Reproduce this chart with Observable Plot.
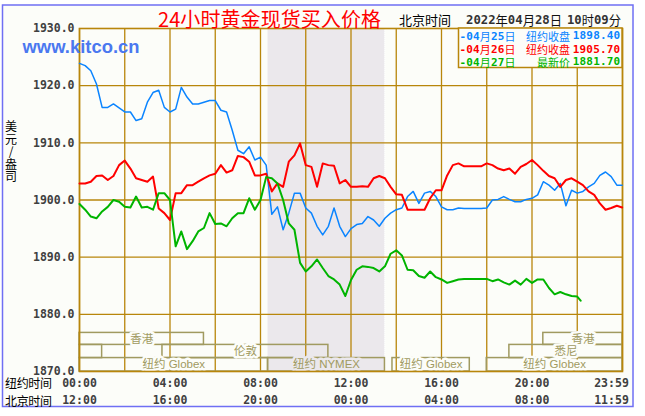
<!DOCTYPE html>
<html><head><meta charset="utf-8">
<script src="https://cdn.jsdelivr.net/npm/d3@7"></script>
<script src="https://cdn.jsdelivr.net/npm/@observablehq/plot@0.6"></script>
<style>
html,body{margin:0;padding:0;background:#fff;}
#chart{width:645px;height:416px;}
</style></head><body><div id="chart"></div>
<script>
// ---- data (NY time, minutes after midnight, 15-minute samples) ----
const times = [...d3.range(0, 1440, 15), 1439];
const blue = [1923.9,1923.5,1922.6,1920.3,1916.2,1916.2,1916.8,1916.1,1915.4,1915.4,1913.9,1914.2,1917.1,1918.8,1919.2,1916.2,
  1915.4,1915.9,1919.7,1918.0,1916.8,1916.8,1917.1,1917.4,1917.4,1915.7,1915.4,1912.2,1908.7,1908.1,1909.3,1907.0,
  1907.5,1906.1,1897.5,1898.8,1894.8,1897.7,1901.2,1901.2,1898.6,1897.7,1895.4,1893.9,1895.4,1898.6,1895.4,1893.6,
  1895.0,1895.7,1895.9,1897.1,1896.5,1895.4,1896.8,1897.7,1898.3,1898.6,1900.6,1901.5,1899.4,1901.2,1901.5,1900.6,
  1898.8,1898.3,1898.3,1898.6,1898.5,1898.5,1898.5,1898.5,1898.6,1900.0,1900.1,1900.6,1900.1,1899.7,1899.7,1900.1,
  1900.3,1900.9,1903.2,1902.6,1901.7,1902.9,1899.0,1901.7,1901.2,1901.5,1902.3,1902.9,1904.3,1904.9,1904.1,1902.6,1902.6];
const red = [1902.9,1902.9,1903.2,1904.2,1904.3,1903.5,1904.2,1906.1,1906.9,1905.5,1903.8,1903.5,1903.2,1904.1,1898.5,1897.7,
  1896.5,1901.2,1901.2,1902.6,1902.6,1903.2,1903.8,1904.3,1904.6,1906.1,1904.8,1905.2,1907.7,1907.5,1906.7,1904.3,
  1904.3,1904.6,1901.5,1902.9,1902.3,1906.7,1907.8,1909.9,1906.1,1905.8,1902.3,1906.4,1906.1,1906.0,1902.9,1903.5,
  1902.3,1902.3,1902.4,1902.3,1903.8,1904.2,1903.8,1902.3,1901.0,1900.9,1898.3,1898.3,1898.3,1898.3,1900.3,1901.7,
  1901.7,1904.3,1906.1,1906.4,1905.9,1905.9,1905.9,1905.9,1906.4,1906.1,1905.5,1905.2,1905.5,1904.6,1905.8,1906.3,
  1907.0,1906.1,1905.1,1904.2,1903.8,1902.3,1903.5,1903.8,1903.2,1902.6,1901.5,1900.9,1899.4,1898.3,1898.6,1899.0,1898.7];
const green = [1899.3,1898.3,1897.1,1896.8,1898.0,1898.8,1900.0,1899.7,1898.8,1898.7,1900.6,1898.7,1898.8,1898.3,1901.2,1901.2,
  1900.0,1891.9,1894.5,1891.4,1892.8,1894.5,1895.1,1897.7,1895.8,1895.9,1895.4,1896.8,1897.7,1897.7,1900.3,1898.3,
  1900.0,1904.0,1903.8,1902.9,1900.0,1895.9,1894.8,1889.0,1887.5,1888.4,1889.6,1888.1,1886.7,1886.1,1885.2,1883.2,
  1886.0,1887.8,1888.4,1888.3,1888.1,1887.5,1888.4,1890.6,1891.2,1890.3,1887.8,1887.7,1886.7,1886.4,1887.5,1886.5,
  1886.1,1885.5,1885.8,1886.1,1886.2,1886.2,1886.2,1886.2,1886.2,1885.8,1886.1,1885.6,1885.2,1885.9,1885.2,1886.2,
  1885.5,1886.1,1886.1,1884.6,1883.5,1883.9,1883.5,1883.2,1883.1];
const greenLastTime = "22:09";
const greenLastValue = 1882.4;

const legendDates = ["04月25日", "04月26日", "04月27日"];
const legendKinds = ["纽约收盘", "纽约收盘", "最新价"];
const legendValues = [1898.40, 1905.70, 1881.70];

const yTicks = [1870, 1880, 1890, 1900, 1910, 1920, 1930];
const gridLevels = [1880, 1890, 1900, 1910, 1920];
const gridHours = [0,2,4,6,8,10,12,14,16,18,20,22,24];
const labelHours = [0, 4, 8, 12, 16, 20, 24];
const nyLabels = ["00:00","04:00","08:00","12:00","16:00","20:00","23:59"];
const bjLabels = ["12:00","16:00","20:00","00:00","04:00","08:00","11:59"];

const sessionNames = ["香港","香港","悉尼","伦敦","悉尼","纽约 Globex","纽约 NYMEX","纽约 Globex","纽约 Globex"];
const sessionStart = ["00:00","20:30","00:00","03:40","19:00","00:00","08:20","13:50","18:00"];
const sessionEnd   = ["05:30","24:00","01:00","11:00","24:00","08:20","13:30","17:15","24:00"];
const sessionRow   = [0,0,1,1,1,2,2,2,2];
const nymexStart = "08:20", nymexEnd = "13:30";

const titleText = "24小时黄金现货买入价格";
const timeZoneText = "北京时间";
const stampDate = "2022年04月28日";
const stampTime = "10时09分";
const siteText = "www.kitco.cn";
const unitText = "美元/盎司";

// ---- styling/layout ----
const toMin = s => { const [h, m] = s.split(":").map(Number); return h * 60 + m; };
const GOLD = "#b8860b", OLIVE = "#a09a60", BG = "#fcfdf9", SHADE = "#ebe8ec";
const BLUE = "#0a84ff", RED = "#ff0000", GREEN = "#00b400";
const rowY = [[1876.75, 1874.65], [1874.65, 1872.35], [1872.35, 1870]];
const MONO = "DejaVu Sans Mono", CJK = "Noto Sans CJK SC";

const mk = (vals, ts) => vals.map((v, i) => ({t: ts[i], v}));
const blueData = mk(blue, times), redData = mk(red, times);
const greenData = mk(green, times).concat([{t: toMin(greenLastTime), v: greenLastValue}]);
const sessions = sessionNames.map((n, i) => ({
  name: n, s: toMin(sessionStart[i]), e: toMin(sessionEnd[i]),
  y1: rowY[sessionRow[i]][0], y2: rowY[sessionRow[i]][1]
}));
const labeled = sessions.filter(d => d.e - d.s >= 120);
const xl = labelHours.map((h, i) => ({t: h * 60, ny: nyLabels[i], bj: bjLabels[i]}));
const xlMain = xl.slice(0, -1), xlLast = xl.slice(-1);
const tickText = {fontFamily: MONO, fontWeight: "bold", fontSize: 11.5, fill: "#404040", lineAnchor: "middle"};

const plot = Plot.plot({
  width: 645, height: 416,
  marginLeft: 79, marginRight: 23, marginTop: 28, marginBottom: 45,
  x: {domain: [0, 1440], axis: null},
  y: {domain: [1870, 1930], axis: null},
  style: {background: "transparent", overflow: "visible"},
  marks: [
    Plot.rect([{s: toMin(nymexStart), e: toMin(nymexEnd)}], {x1: "s", x2: "e", y1: 1870, y2: 1930, fill: SHADE}),
    Plot.ruleX([toMin(nymexEnd)], {y1: 1870, y2: 1930, stroke: "white", strokeDasharray: "1,1", strokeWidth: 1}),
    Plot.ruleX(gridHours.map(h => h * 60), {y1: 1870, y2: 1930, stroke: GOLD, strokeWidth: 1.3}),
    Plot.ruleY(gridLevels, {x1: 0, x2: 1440, stroke: GOLD, strokeWidth: 1.3}),
    Plot.rect(sessions, {x1: "s", x2: "e", y1: "y1", y2: "y2", fill: "none", stroke: OLIVE, strokeWidth: 1.5}),
    Plot.text(labeled, {x: d => (d.s + d.e) / 2, y: d => (d.y1 + d.y2) / 2, text: "name",
      fill: OLIVE, stroke: d => d.name.includes("NYMEX") ? SHADE : BG, strokeWidth: 5,
      fontSize: 11.5, fontFamily: "Liberation Sans, Noto Sans CJK SC", lineAnchor: "middle"}),
    Plot.frame({stroke: GOLD, strokeWidth: 1.6}),
    Plot.line(blueData, {x: "t", y: "v", stroke: BLUE, strokeWidth: 1.5}),
    Plot.line(redData, {x: "t", y: "v", stroke: RED, strokeWidth: 2}),
    Plot.line(greenData, {x: "t", y: "v", stroke: GREEN, strokeWidth: 2}),
    Plot.text(yTicks, {frameAnchor: "left", y: d => d, text: d => d.toFixed(1), textAnchor: "end", dx: -5, ...tickText}),
    Plot.text(xlMain, {x: "t", frameAnchor: "bottom", text: "ny", dy: 11.5, ...tickText}),
    Plot.text(xlMain, {x: "t", frameAnchor: "bottom", text: "bj", dy: 29, ...tickText}),
    Plot.text(xlLast, {x: "t", frameAnchor: "bottom", text: "ny", dy: 11.5, dx: -11, ...tickText}),
    Plot.text(xlLast, {x: "t", frameAnchor: "bottom", text: "bj", dy: 29, dx: -11, ...tickText})
  ]
});
document.getElementById("chart").appendChild(plot);

const svg = d3.select(plot);
svg.insert("rect", ":first-child").attr("x", 2.5).attr("y", 5).attr("width", 630.5).attr("height", 401.5)
  .attr("fill", BG).attr("stroke", "#6f6ff4").attr("stroke-width", 1.5);

function mixed(str, x, y, o = {}) {
  const size = o.size || 12;
  const t = svg.append("text").attr("x", x).attr("y", y).attr("fill", o.fill || "#000")
    .attr("text-anchor", o.anchor || "start").attr("dominant-baseline", "central")
    .style("font-size", size + "px");
  if (o.len) t.attr("textLength", o.len).attr("lengthAdjust", o.adjust || "spacing");
  if (o.font) {
    t.style("font-family", o.font).style("font-weight", o.weight || "normal").text(str);
    return t;
  }
  str.match(/[\x00-\x7f]+|[^\x00-\x7f]+/g).forEach(r => {
    const ascii = /^[\x00-\x7f]/.test(r);
    t.append("tspan").text(r).style("font-family", ascii ? MONO : CJK)
      .style("font-weight", ascii ? "bold" : "normal").attr("fill", ascii && o.asciiFill ? o.asciiFill : null);
  });
  return t;
}

// title row
mixed(titleText, 158, 18, {size: 20, fill: RED, font: CJK, len: 223});
mixed(timeZoneText, 399, 19, {size: 13, font: CJK, len: 52});
mixed(stampDate, 466, 19, {size: 13, fill: "#111", asciiFill: "#333", len: 96, adjust: "spacingAndGlyphs"});
mixed(stampTime, 621, 19, {size: 13, fill: "#111", asciiFill: "#333", anchor: "end", len: 54, adjust: "spacingAndGlyphs"});

// site
svg.append("text").attr("x", 81).attr("y", 53).attr("fill", "#4a78f0")
  .style("font-family", "Liberation Sans, Arial").style("font-size", "19px").style("font-weight", "bold")
  .attr("textLength", 117).attr("lengthAdjust", "spacingAndGlyphs").text(siteText);

// unit (vertical, one text element)
svg.append("text").attr("x", 11).attr("y", 152).attr("fill", "#000")
  .style("writing-mode", "vertical-rl").style("text-orientation", "upright")
  .style("font-family", CJK).style("font-size", "12px").style("letter-spacing", "0.6px")
  .text(unitText);

// left labels for time rows
mixed("纽约时间", 5, 382.5, {size: 12, font: CJK, len: 47});
mixed(timeZoneText, 5, 400, {size: 12, font: CJK, len: 47});

// legend box
svg.append("rect").attr("x", 458.5).attr("y", 28).attr("width", 163.5).attr("height", 39.5)
  .attr("fill", BG).attr("stroke", GOLD).attr("stroke-width", 1.5);
const legendColors = [BLUE, RED, GREEN];
const legendY = [35.5, 49.2, 61.7];
legendDates.forEach((d, i) => {
  const c = legendColors[i];
  mixed("-" + d, 459.5, legendY[i], {size: 11, fill: c, len: 56});
  mixed(legendKinds[i], 570, legendY[i], {size: 11, fill: c, font: CJK, anchor: "end"});
  mixed(legendValues[i].toFixed(2), 572.7, legendY[i], {size: 11, fill: c, font: MONO, weight: "bold", len: 47.5});
});
</script></body></html>
